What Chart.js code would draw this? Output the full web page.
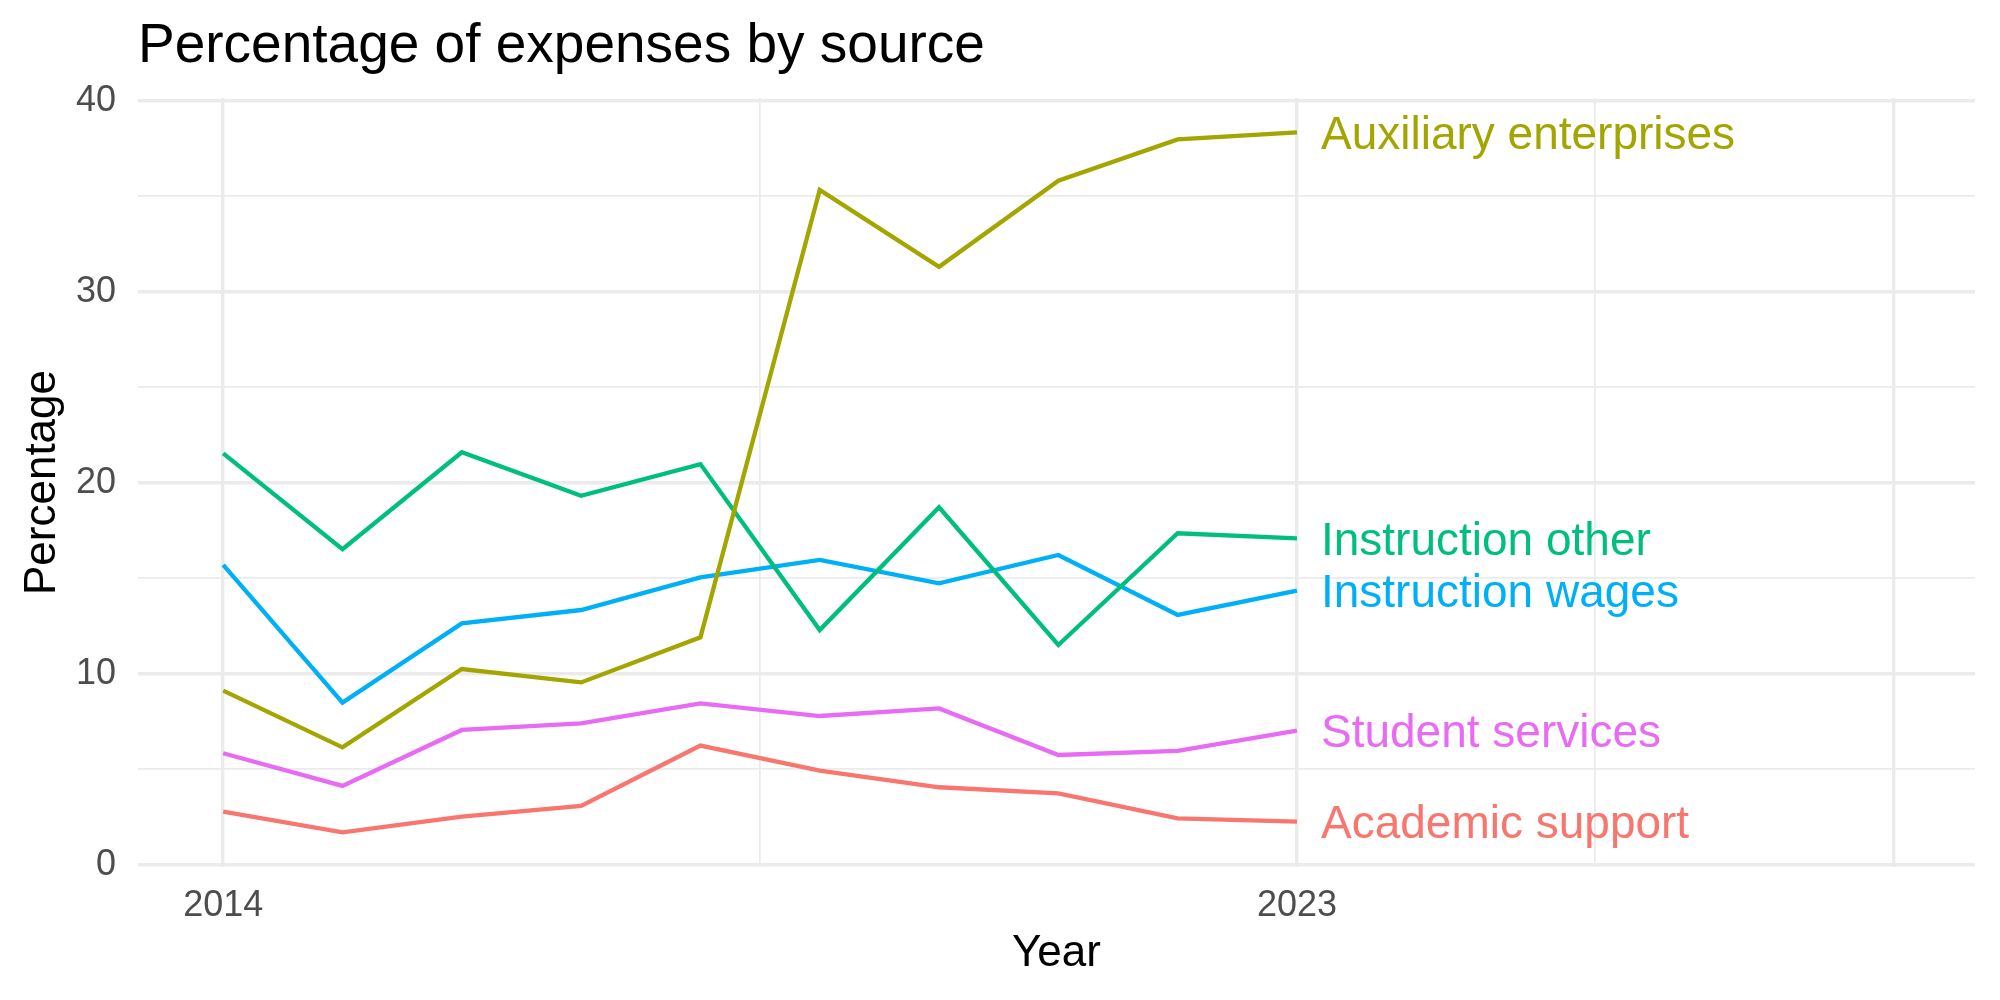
<!DOCTYPE html>
<html>
<head>
<meta charset="utf-8">
<script src="https://cdn.jsdelivr.net/npm/chart.js@4.4.0/dist/chart.umd.min.js"></script>
<style>
  body { margin: 0; background: #fff; }
  #wrap { width: 2000px; height: 1000px; }
</style>
</head>
<body>
<div id="wrap"><canvas id="expensesChart"></canvas></div>
<script>
const years = [2014, 2015, 2016, 2017, 2018, 2019, 2020, 2021, 2022, 2023];

const seriesNames = [
  'Academic support', 'Auxiliary enterprises', 'Instruction other',
  'Instruction wages', 'Student services'
];
const academicSupport = [2.78, 1.70, 2.52, 3.08, 6.24, 4.93, 4.06, 3.74, 2.43, 2.26];
const auxiliaryEnterprises = [9.12, 6.15, 10.25, 9.55, 11.91, 35.33, 31.31, 35.82, 37.98, 38.35];
const instructionOther = [21.54, 16.52, 21.60, 19.32, 20.98, 12.29, 18.72, 11.51, 17.36, 17.09];
const instructionWages = [15.70, 8.49, 12.64, 13.34, 15.05, 15.96, 14.74, 16.22, 13.08, 14.35];
const studentServices = [5.84, 4.13, 7.06, 7.41, 8.45, 7.79, 8.19, 5.75, 5.97, 7.02];

const colors = ['#F8766D', '#A3A500', '#00BF7D', '#00B0F6', '#E76BF3'];

const xTicks = [2014, 2018.5, 2023, 2025.5, 2028];
const xTickLabels = ['2014', '', '2023', '', ''];
const yTicks = [0, 5, 10, 15, 20, 25, 30, 35, 40];

const FONT = '"Liberation Sans", Arial, Helvetica, sans-serif';
const GRID = '#EBEBEB';

const allSeries = [academicSupport, auxiliaryEnterprises, instructionOther, instructionWages, studentServices];

const datasets = allSeries.map((vals, i) => ({
  label: seriesNames[i],
  data: years.map((yr, j) => ({ x: yr, y: vals[j] })),
  borderColor: colors[i],
  backgroundColor: colors[i],
  borderWidth: 4.3,
  pointRadius: 0,
  tension: 0,
  fill: false,
  clip: false,
  order: i
}));

// title drawn at the panel's left edge like ggplot
const titlePlugin = {
  id: 'plotTitle',
  afterDraw(chart) {
    const c = chart.ctx;
    c.save();
    c.font = '55px ' + FONT;
    c.fillStyle = '#000000';
    c.textBaseline = 'alphabetic';
    c.textAlign = 'left';
    c.fillText('Percentage of expenses by source', 138, 62);
    c.restore();
  }
};

// direct labels at the end of each line
const endLabels = {
  id: 'endLabels',
  afterDatasetsDraw(chart) {
    const c = chart.ctx;
    const xs = chart.scales.x;
    const ys = chart.scales.y;
    const last = years.length - 1;
    c.save();
    c.font = '46px ' + FONT;
    c.textAlign = 'left';
    c.textBaseline = 'middle';
    allSeries.forEach((vals, i) => {
      c.fillStyle = colors[i];
      c.fillText(seriesNames[i], xs.getPixelForValue(years[last]) + 24, ys.getPixelForValue(vals[last]) + 4);
    });
    c.restore();
  }
};

const config = {
  type: 'line',
  data: { datasets: datasets },
  options: {
    responsive: true,
    maintainAspectRatio: false,
    animation: false,
    layout: { padding: { top: 98, right: 25, bottom: 0, left: 0 } },
    plugins: {
      legend: { display: false },
      tooltip: { enabled: false },
      title: { display: false }
    },
    scales: {
      x: {
        type: 'linear',
        min: 2013.286,
        max: 2028.683,
        afterBuildTicks: (scale) => { scale.ticks = xTicks.map(v => ({ value: v })); },
        afterFit: (scale) => { scale.height = 133; },
        border: { display: false },
        grid: {
          color: GRID,
          drawTicks: false,
          lineWidth: (ctx) => (ctx.tick && (ctx.tick.value === 2018.5 || ctx.tick.value === 2025.5)) ? 1.7 : 3.4
        },
        ticks: {
          autoSkip: false,
          maxRotation: 0,
          padding: 17,
          color: '#4D4D4D',
          font: { family: FONT, size: 36 },
          callback: (value) => {
            const k = xTicks.indexOf(value);
            return k >= 0 ? xTickLabels[k] : '';
          }
        },
        title: {
          display: true,
          text: 'Year',
          color: '#000000',
          font: { family: FONT, size: 44 },
          padding: { top: 0, bottom: 20 }
        }
      },
      y: {
        type: 'linear',
        min: -0.115,
        max: 40.147,
        afterBuildTicks: (scale) => { scale.ticks = yTicks.map(v => ({ value: v })); },
        afterFit: (scale) => { scale.width = 138; },
        border: { display: false },
        grid: {
          color: GRID,
          drawTicks: false,
          lineWidth: (ctx) => (ctx.tick && ctx.tick.value % 10 !== 0) ? 1.7 : 3.4
        },
        ticks: {
          padding: 22,
          color: '#4D4D4D',
          font: { family: FONT, size: 36 },
          callback: (value) => (value % 10 === 0 ? String(value) : '')
        },
        title: {
          display: true,
          text: 'Percentage',
          color: '#000000',
          font: { family: FONT, size: 44 },
          padding: { top: 16, bottom: 0 }
        }
      }
    }
  },
  plugins: [titlePlugin, endLabels]
};

new Chart(document.getElementById('expensesChart').getContext('2d'), config);
</script>
</body>
</html>
